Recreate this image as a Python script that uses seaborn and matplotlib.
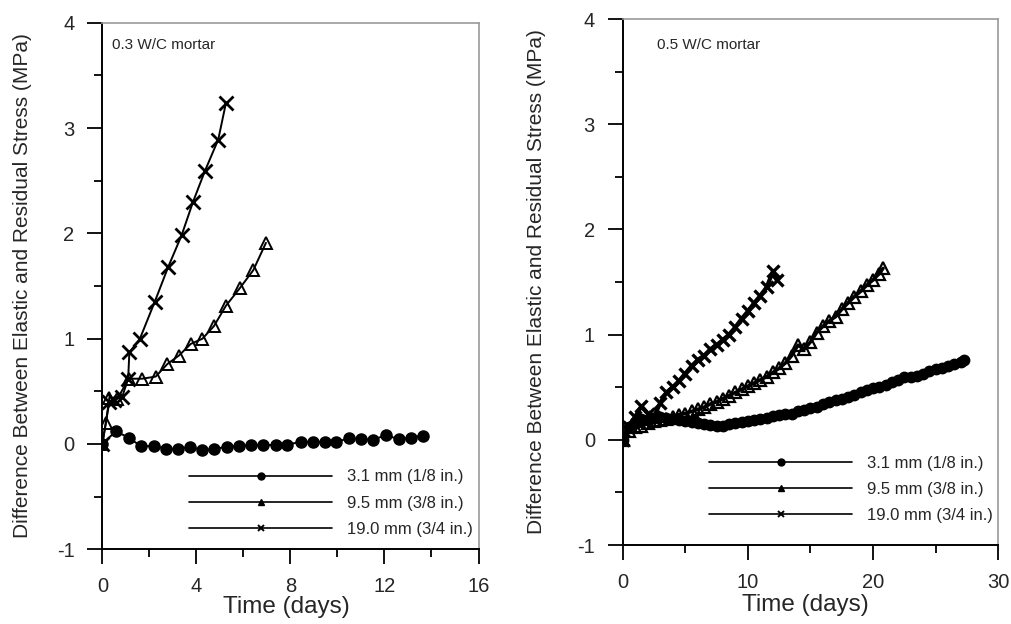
import matplotlib
matplotlib.use("Agg")
import matplotlib.pyplot as plt
from matplotlib.lines import Line2D
from matplotlib.ticker import MultipleLocator, FixedLocator
import seaborn as sns
import pandas as pd

# ---------------- data: 0.3 W/C mortar ----------------
t_a_31 = [0, 0.57, 1.13, 1.63, 2.2, 2.7, 3.22, 3.73, 4.26, 4.75, 5.29, 5.82, 6.34,
          6.85, 7.38, 7.87, 8.44, 8.94, 9.48, 9.96, 10.5, 11.02, 11.53, 12.06, 12.6,
          13.12, 13.62]
y_a_31 = [0, 0.12, 0.06, -0.02, -0.02, -0.045, -0.045, -0.03, -0.055, -0.05, -0.025,
          -0.02, -0.01, -0.01, -0.01, -0.005, 0.02, 0.02, 0.02, 0.015, 0.06, 0.045,
          0.04, 0.085, 0.045, 0.06, 0.08]

t_a_95 = [0, 0.15, 0.3, 0.64, 1.13, 1.7, 2.27, 2.77, 3.26, 3.76, 4.26, 4.75, 5.25,
          5.85, 6.42, 6.96]
y_a_95 = [0, 0.2, 0.44, 0.43, 0.62, 0.62, 0.64, 0.76, 0.84, 0.95, 1.0, 1.12, 1.31,
          1.48, 1.65, 1.91]

t_a_190 = [0, 0.3, 0.5, 0.85, 1.1, 1.15, 1.6, 2.23, 2.8, 3.37, 3.86, 4.36, 4.93, 5.26]
y_a_190 = [0, 0.4, 0.42, 0.45, 0.62, 0.87, 1.0, 1.35, 1.68, 1.98, 2.3, 2.59, 2.89, 3.24]

# ---------------- data: 0.5 W/C mortar ----------------
t_b_31 = [0, 0.5, 1, 1.5, 2, 2.5, 3, 3.5, 4, 4.5, 5, 5.5, 6, 6.5, 7, 7.5, 8, 8.5, 9,
          9.5, 10, 10.5, 11, 11.5, 12, 12.5, 13, 13.5, 14, 14.5, 15, 15.5, 16, 16.5,
          17, 17.5, 18, 18.5, 19, 19.5, 20, 20.5, 21, 21.5, 22, 22.5, 23, 23.5, 24,
          24.5, 25, 25.5, 26, 26.5, 27, 27.3]
y_b_31 = [0, 0.12, 0.17, 0.2, 0.19, 0.21, 0.22, 0.21, 0.2, 0.19, 0.18, 0.17, 0.16,
          0.15, 0.14, 0.13, 0.13, 0.15, 0.16, 0.17, 0.18, 0.19, 0.2, 0.21, 0.23, 0.24,
          0.25, 0.25, 0.27, 0.28, 0.3, 0.31, 0.34, 0.36, 0.38, 0.39, 0.41, 0.43, 0.45,
          0.47, 0.49, 0.5, 0.52, 0.55, 0.57, 0.6, 0.6, 0.61, 0.63, 0.65, 0.67, 0.68,
          0.7, 0.72, 0.74, 0.76]

t_b_95 = [0, 0.5, 1, 1.5, 2, 2.5, 3, 3.5, 4, 4.5, 5, 5.5, 6, 6.5, 7, 7.5, 8, 8.5, 9,
          9.5, 10, 10.5, 11, 11.5, 12, 12.5, 13, 13.5, 14, 14.5, 15, 15.5, 16, 16.5,
          17, 17.5, 18, 18.5, 19, 19.5, 20, 20.5, 20.8]
y_b_95 = [0, 0.08, 0.12, 0.13, 0.16, 0.18, 0.19, 0.2, 0.22, 0.24, 0.25, 0.27, 0.29,
          0.31, 0.34, 0.36, 0.39, 0.42, 0.45, 0.48, 0.51, 0.54, 0.57, 0.6, 0.64, 0.68,
          0.73, 0.8, 0.9, 0.86, 0.93, 1.02, 1.08, 1.13, 1.17, 1.24, 1.3, 1.36, 1.41,
          1.47, 1.52, 1.58, 1.63]

t_b_190 = [0, 0.5, 1, 1.5, 2, 2.5, 3, 3.5, 4, 4.5, 5, 5.5, 6, 6.5, 7, 7.5, 8, 8.5, 9,
           9.5, 10, 10.5, 11, 11.5, 12, 12.3]
y_b_190 = [0, 0.12, 0.22, 0.32, 0.25, 0.22, 0.35, 0.45, 0.5, 0.56, 0.63, 0.7, 0.76,
           0.8, 0.86, 0.9, 0.95, 1.0, 1.07, 1.15, 1.22, 1.3, 1.37, 1.45, 1.6, 1.52]

legend_labels = ["3.1 mm (1/8 in.)", "9.5 mm (3/8 in.)", "19.0 mm (3/4 in.)"]
ylabel = "Difference Between Elastic and Residual Stress (MPa)"
xlabel = "Time (days)"

# ---------------- style ----------------
sns.set_style("ticks")
plt.rcParams["font.family"] = ["Liberation Sans", "DejaVu Sans"]
plt.rcParams["axes.unicode_minus"] = False

fig = plt.figure(figsize=(10.11, 6.24), dpi=100)
ax1 = fig.add_axes([0.1012, 0.1197, 0.3721, 0.8439])
ax2 = fig.add_axes([0.6159, 0.1266, 0.3715, 0.8429])


def draw(ax, t, y, marker, ms, face, mew, lw):
    df = pd.DataFrame({"t": t, "y": y})
    sns.lineplot(data=df, x="t", y="y", ax=ax, color="black", lw=lw,
                 marker=marker, markersize=ms, markerfacecolor=face,
                 markeredgecolor="black", markeredgewidth=mew,
                 estimator=None, sort=False)


draw(ax1, t_a_31, y_a_31, "o", 8, "black", 1.0, 1.4)
draw(ax1, t_a_95, y_a_95, "^", 8.5, "none", 1.4, 1.4)
draw(ax1, t_a_190, y_a_190, "x", 9.5, "black", 2.0, 1.4)

draw(ax2, t_b_31, y_b_31, "o", 7.5, "black", 1.0, 2.5)
draw(ax2, t_b_95, y_b_95, "^", 8, "none", 1.6, 2.5)
draw(ax2, t_b_190, y_b_190, "x", 9, "black", 2.4, 3.0)

handles = [
    Line2D([], [], color="black", lw=1.2, marker="o", ms=5),
    Line2D([], [], color="black", lw=1.2, marker="^", ms=5),
    Line2D([], [], color="black", lw=1.2, marker="x", ms=5, mew=1.4),
]

configs = [
    (ax1, (0, 16), [0, 4, 8, 12, 16], 2, (0.2306, 0.0879), "0.3 W/C mortar",
     (0.4, 3.79), (-0.211, 0.5), (0.49, -0.1096)),
    (ax2, (0, 30), [0, 10, 20, 30], 5, (0.2298, 0.1055), "0.5 W/C mortar",
     (2.76, 3.75), (-0.229, 0.5), (0.487, -0.114)),
]

for ax, xl, xmaj, xmin, legpos, title, tpos, ylc, xlc in configs:
    ax.set_xlim(*xl)
    ax.set_ylim(-1, 4)
    ax.xaxis.set_major_locator(FixedLocator(xmaj))
    ax.xaxis.set_minor_locator(MultipleLocator(xmin))
    ax.yaxis.set_major_locator(MultipleLocator(1))
    ax.yaxis.set_minor_locator(MultipleLocator(0.5))
    ax.tick_params(which="major", direction="out", length=11, width=1.3,
                   color="black", labelsize=14.5, pad=9)
    ax.tick_params(which="minor", direction="out", length=5.5, width=1.3,
                   color="black")
    for s in ["left", "bottom"]:
        ax.spines[s].set_color("black")
        ax.spines[s].set_linewidth(1.4)
    for s in ["top", "right"]:
        ax.spines[s].set_visible(True)
        ax.spines[s].set_color("#9a9a9a")
        ax.spines[s].set_linewidth(1.2)
    ax.set_ylabel(ylabel, fontsize=15)
    ax.set_xlabel(xlabel, fontsize=17.5)
    ax.yaxis.set_label_coords(*ylc)
    ax.xaxis.set_label_coords(*xlc)
    ax.xaxis.label.set_va("center")
    ax.yaxis.label.set_va("center")
    ax.text(tpos[0], tpos[1], title, fontsize=11, ha="left", va="center")
    ax.legend(handles, legend_labels, loc="center left", bbox_to_anchor=legpos,
              frameon=False, handlelength=8.6, handletextpad=0.9,
              labelspacing=0.67, borderpad=0, borderaxespad=0, fontsize=12,
              numpoints=1)

fig.savefig("out.png", dpi=100)
